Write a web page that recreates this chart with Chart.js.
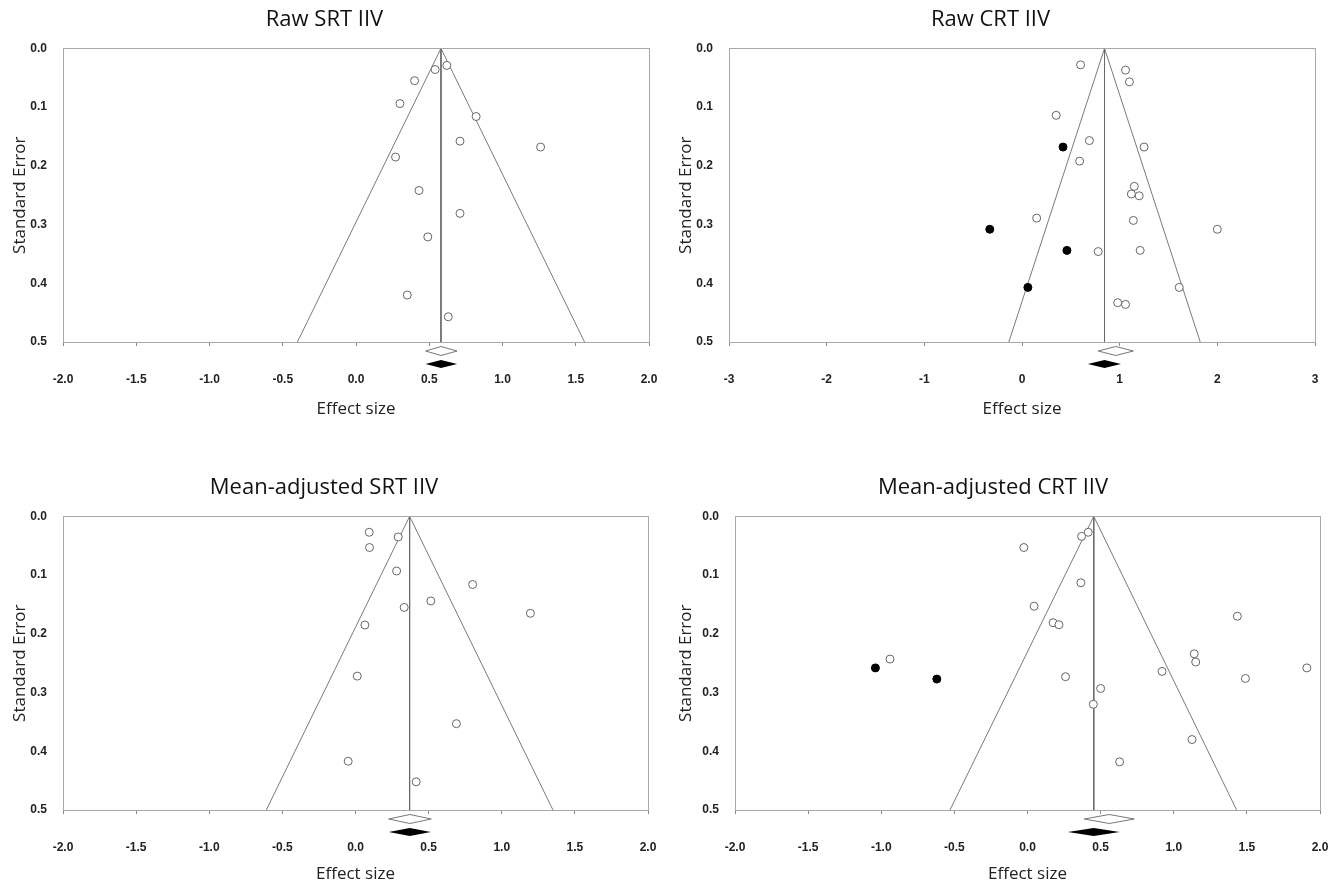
<!DOCTYPE html>
<html>
<head>
<meta charset="utf-8">
<script src="https://cdn.jsdelivr.net/npm/chart.js@4.4.1/dist/chart.umd.min.js"></script>
<style>
  body { margin: 0; background: #fff; }
  #wrap { position: relative; width: 1332px; height: 885px; }
  .panel { position: absolute; }
</style>
</head>
<body>
<div id="wrap">
  <div class="panel" style="left:0;top:0"><canvas id="c1" width="666" height="440"></canvas></div>
  <div class="panel" style="left:666px;top:0"><canvas id="c2" width="666" height="440"></canvas></div>
  <div class="panel" style="left:0;top:440px"><canvas id="c3" width="666" height="445"></canvas></div>
  <div class="panel" style="left:666px;top:440px"><canvas id="c4" width="666" height="445"></canvas></div>
</div>
<script>
// Raw SRT IIV
const rawSrtEs = [0.62, 0.54, 0.40, 0.30, 0.82, 0.71, 1.26, 0.27, 0.43, 0.71, 0.49, 0.35, 0.63];
const rawSrtSe = [0.029, 0.036, 0.055, 0.094, 0.116, 0.158, 0.168, 0.185, 0.242, 0.281, 0.321, 0.420, 0.457];
const rawSrtFunnel = [-0.40, 0.58, 1.56];      // base left, apex, base right
const rawSrtFixed = [0.475, 0.58, 0.69];       // open diamond: lo, est, hi
const rawSrtAdj = [0.475, 0.58, 0.69];         // filled diamond

// Raw CRT IIV
const rawCrtEs = [0.60, 1.06, 1.10, 0.35, 0.69, 1.25, 0.59, 1.15, 1.12, 1.20, 0.15, 1.14, 2.00, 0.78, 1.21, 1.61, 0.98, 1.06];
const rawCrtSe = [0.028, 0.037, 0.057, 0.114, 0.157, 0.168, 0.192, 0.235, 0.248, 0.251, 0.289, 0.293, 0.308, 0.346, 0.344, 0.407, 0.433, 0.436];
const rawCrtImpEs = [0.42, -0.33, 0.46, 0.06];
const rawCrtImpSe = [0.168, 0.308, 0.344, 0.407];
const rawCrtFunnel = [-0.135, 0.845, 1.825];
const rawCrtFixed = [0.78, 0.96, 1.14];
const rawCrtAdj = [0.674, 0.845, 1.013];

// Mean-adjusted SRT IIV
const adjSrtEs = [0.094, 0.292, 0.096, 0.281, 0.801, 0.515, 0.333, 1.196, 0.064, 0.012, 0.690, -0.050, 0.415];
const adjSrtSe = [0.027, 0.035, 0.053, 0.093, 0.116, 0.144, 0.155, 0.165, 0.185, 0.272, 0.353, 0.417, 0.452];
const adjSrtFunnel = [-0.61, 0.37, 1.35];
const adjSrtFixed = [0.227, 0.372, 0.518];
const adjSrtAdj = [0.227, 0.372, 0.515];

// Mean-adjusted CRT IIV
const adjCrtEs = [0.415, 0.37, -0.025, 0.365, 0.045, 0.175, 0.215, 1.435, -0.94, 0.26, 1.14, 1.15, 0.92, 1.91, 1.49, 0.50, 0.45, 1.125, 0.63];
const adjCrtSe = [0.027, 0.034, 0.053, 0.113, 0.153, 0.181, 0.1845, 0.170, 0.243, 0.273, 0.234, 0.248, 0.264, 0.258, 0.276, 0.293, 0.320, 0.380, 0.418];
const adjCrtImpEs = [-1.04, -0.62];
const adjCrtImpSe = [0.258, 0.277];
const adjCrtFunnel = [-0.53, 0.453, 1.43];
const adjCrtFixed = [0.388, 0.559, 0.73];
const adjCrtAdj = [0.276, 0.453, 0.63];

const seMax = 0.5;
const tickFont = { family: 'Liberation Sans', size: 12, weight: 'bold' };
const labelFont = { family: 'Open Sans', size: 17 };

function toPoints(xs, ys) {
    return xs.map((x, i) => ({ x: x, y: ys[i] }));
}

// box round the plot area
const boxPlugin = {
    id: 'box',
    afterDraw(chart) {
        const a = chart.chartArea, ctx = chart.ctx;
        ctx.save();
        ctx.strokeStyle = '#a8a8a8';
        ctx.lineWidth = 1;
        ctx.strokeRect(Math.round(a.left) + 0.5, Math.round(a.top) + 0.5,
            Math.round(a.right - a.left), Math.round(a.bottom - a.top));
        ctx.restore();
    }
};

// summary diamonds under the x axis
const diamondPlugin = {
    id: 'diamonds',
    afterDraw(chart, args, opts) {
        const xs = chart.scales.x, a = chart.chartArea, ctx = chart.ctx;
        const draw = (d, dy, h, filled) => {
            const l = xs.getPixelForValue(d[0]);
            const m = xs.getPixelForValue(d[1]);
            const r = xs.getPixelForValue(d[2]);
            const y = a.bottom + dy;
            ctx.beginPath();
            ctx.moveTo(l, y);
            ctx.lineTo(m, y - h);
            ctx.lineTo(r, y);
            ctx.lineTo(m, y + h);
            ctx.closePath();
            if (filled) {
                ctx.fillStyle = '#000';
                ctx.fill();
            } else {
                ctx.fillStyle = '#fff';
                ctx.fill();
                ctx.strokeStyle = '#777';
                ctx.lineWidth = 1;
                ctx.stroke();
            }
        };
        ctx.save();
        draw(opts.open, 9, 4.5, false);
        draw(opts.filled, 22, 4, true);
        ctx.restore();
    }
};

function makeFunnel(id, cfg) {
    const datasets = [];
    if (cfg.impEs) {
        datasets.push({
            data: toPoints(cfg.impEs, cfg.impSe),
            pointRadius: 4, pointBackgroundColor: '#000', pointBorderColor: '#000', pointBorderWidth: 1
        });
    }
    datasets.push({
        data: toPoints(cfg.es, cfg.se),
        pointRadius: 4, pointBackgroundColor: '#fff', pointBorderColor: '#666', pointBorderWidth: 1
    });
    datasets.push({
        data: [{ x: cfg.funnel[1], y: 0 }, { x: cfg.funnel[1], y: seMax }],
        showLine: true, pointRadius: 0, borderColor: '#6a6a6a', borderWidth: 1
    });
    datasets.push({
        data: [{ x: cfg.funnel[0], y: seMax }, { x: cfg.funnel[1], y: 0 }, { x: cfg.funnel[2], y: seMax }],
        showLine: true, pointRadius: 0, borderColor: '#7a7a7a', borderWidth: 1
    });

    return new Chart(document.getElementById(id), {
        type: 'scatter',
        data: { datasets: datasets },
        plugins: [boxPlugin, diamondPlugin],
        options: {
            responsive: false,
            animation: false,
            layout: { padding: { left: 0, right: cfg.right, top: 0, bottom: 0 } },
            plugins: {
                legend: { display: false },
                tooltip: { enabled: false },
                title: {
                    display: true, text: cfg.title, color: '#111',
                    font: { family: 'Open Sans', size: 22, weight: 'normal' },
                    padding: cfg.titlePad
                },
                diamonds: { open: cfg.fixed, filled: cfg.adj }
            },
            scales: {
                x: {
                    type: 'linear', min: cfg.xMin, max: cfg.xMax,
                    afterFit: s => {
                        s.height = cfg.xHeight;
                        s.paddingLeft = 0;
                        s.paddingRight = 0;
                    },
                    border: { display: false },
                    grid: { drawOnChartArea: false, drawTicks: true, tickLength: 4, color: '#888' },
                    ticks: {
                        stepSize: cfg.xStep, padding: 26, color: '#222', font: tickFont,
                        callback: v => cfg.xStep < 1 ? v.toFixed(1) : String(v)
                    },
                    title: { display: true, text: 'Effect size', color: '#222', font: labelFont, padding: { top: 0, bottom: cfg.xTitlePad } }
                },
                y: {
                    type: 'linear', min: 0, max: seMax, reverse: true,
                    afterFit: s => { s.width = cfg.left; },
                    border: { display: false },
                    grid: { display: false },
                    ticks: { stepSize: 0.1, padding: 8, color: '#222', font: tickFont, callback: v => v.toFixed(1) },
                    title: { display: true, text: 'Standard Error', color: '#222', font: labelFont, padding: { top: 10, bottom: 0 } }
                }
            }
        }
    });
}

makeFunnel('c1', {
    title: 'Raw SRT IIV', es: rawSrtEs, se: rawSrtSe, funnel: rawSrtFunnel,
    fixed: rawSrtFixed, adj: rawSrtAdj, xMin: -2, xMax: 2, xStep: 0.5,
    left: 63, right: 17, xHeight: 98, xTitlePad: 21, titlePad: { top: 7, bottom: 15 }
});
makeFunnel('c2', {
    title: 'Raw CRT IIV', es: rawCrtEs, se: rawCrtSe, impEs: rawCrtImpEs, impSe: rawCrtImpSe,
    funnel: rawCrtFunnel, fixed: rawCrtFixed, adj: rawCrtAdj, xMin: -3, xMax: 3, xStep: 1,
    left: 63, right: 17, xHeight: 98, xTitlePad: 21, titlePad: { top: 7, bottom: 15 }
});
makeFunnel('c3', {
    title: 'Mean-adjusted SRT IIV', es: adjSrtEs, se: adjSrtSe, funnel: adjSrtFunnel,
    fixed: adjSrtFixed, adj: adjSrtAdj, xMin: -2, xMax: 2, xStep: 0.5,
    left: 63, right: 18, xHeight: 75, xTitlePad: 1, titlePad: { top: 35, bottom: 15 }
});
makeFunnel('c4', {
    title: 'Mean-adjusted CRT IIV', es: adjCrtEs, se: adjCrtSe, impEs: adjCrtImpEs, impSe: adjCrtImpSe,
    funnel: adjCrtFunnel, fixed: adjCrtFixed, adj: adjCrtAdj, xMin: -2, xMax: 2, xStep: 0.5,
    left: 69, right: 12, xHeight: 75, xTitlePad: 1, titlePad: { top: 35, bottom: 15 }
});
</script>
</body>
</html>
